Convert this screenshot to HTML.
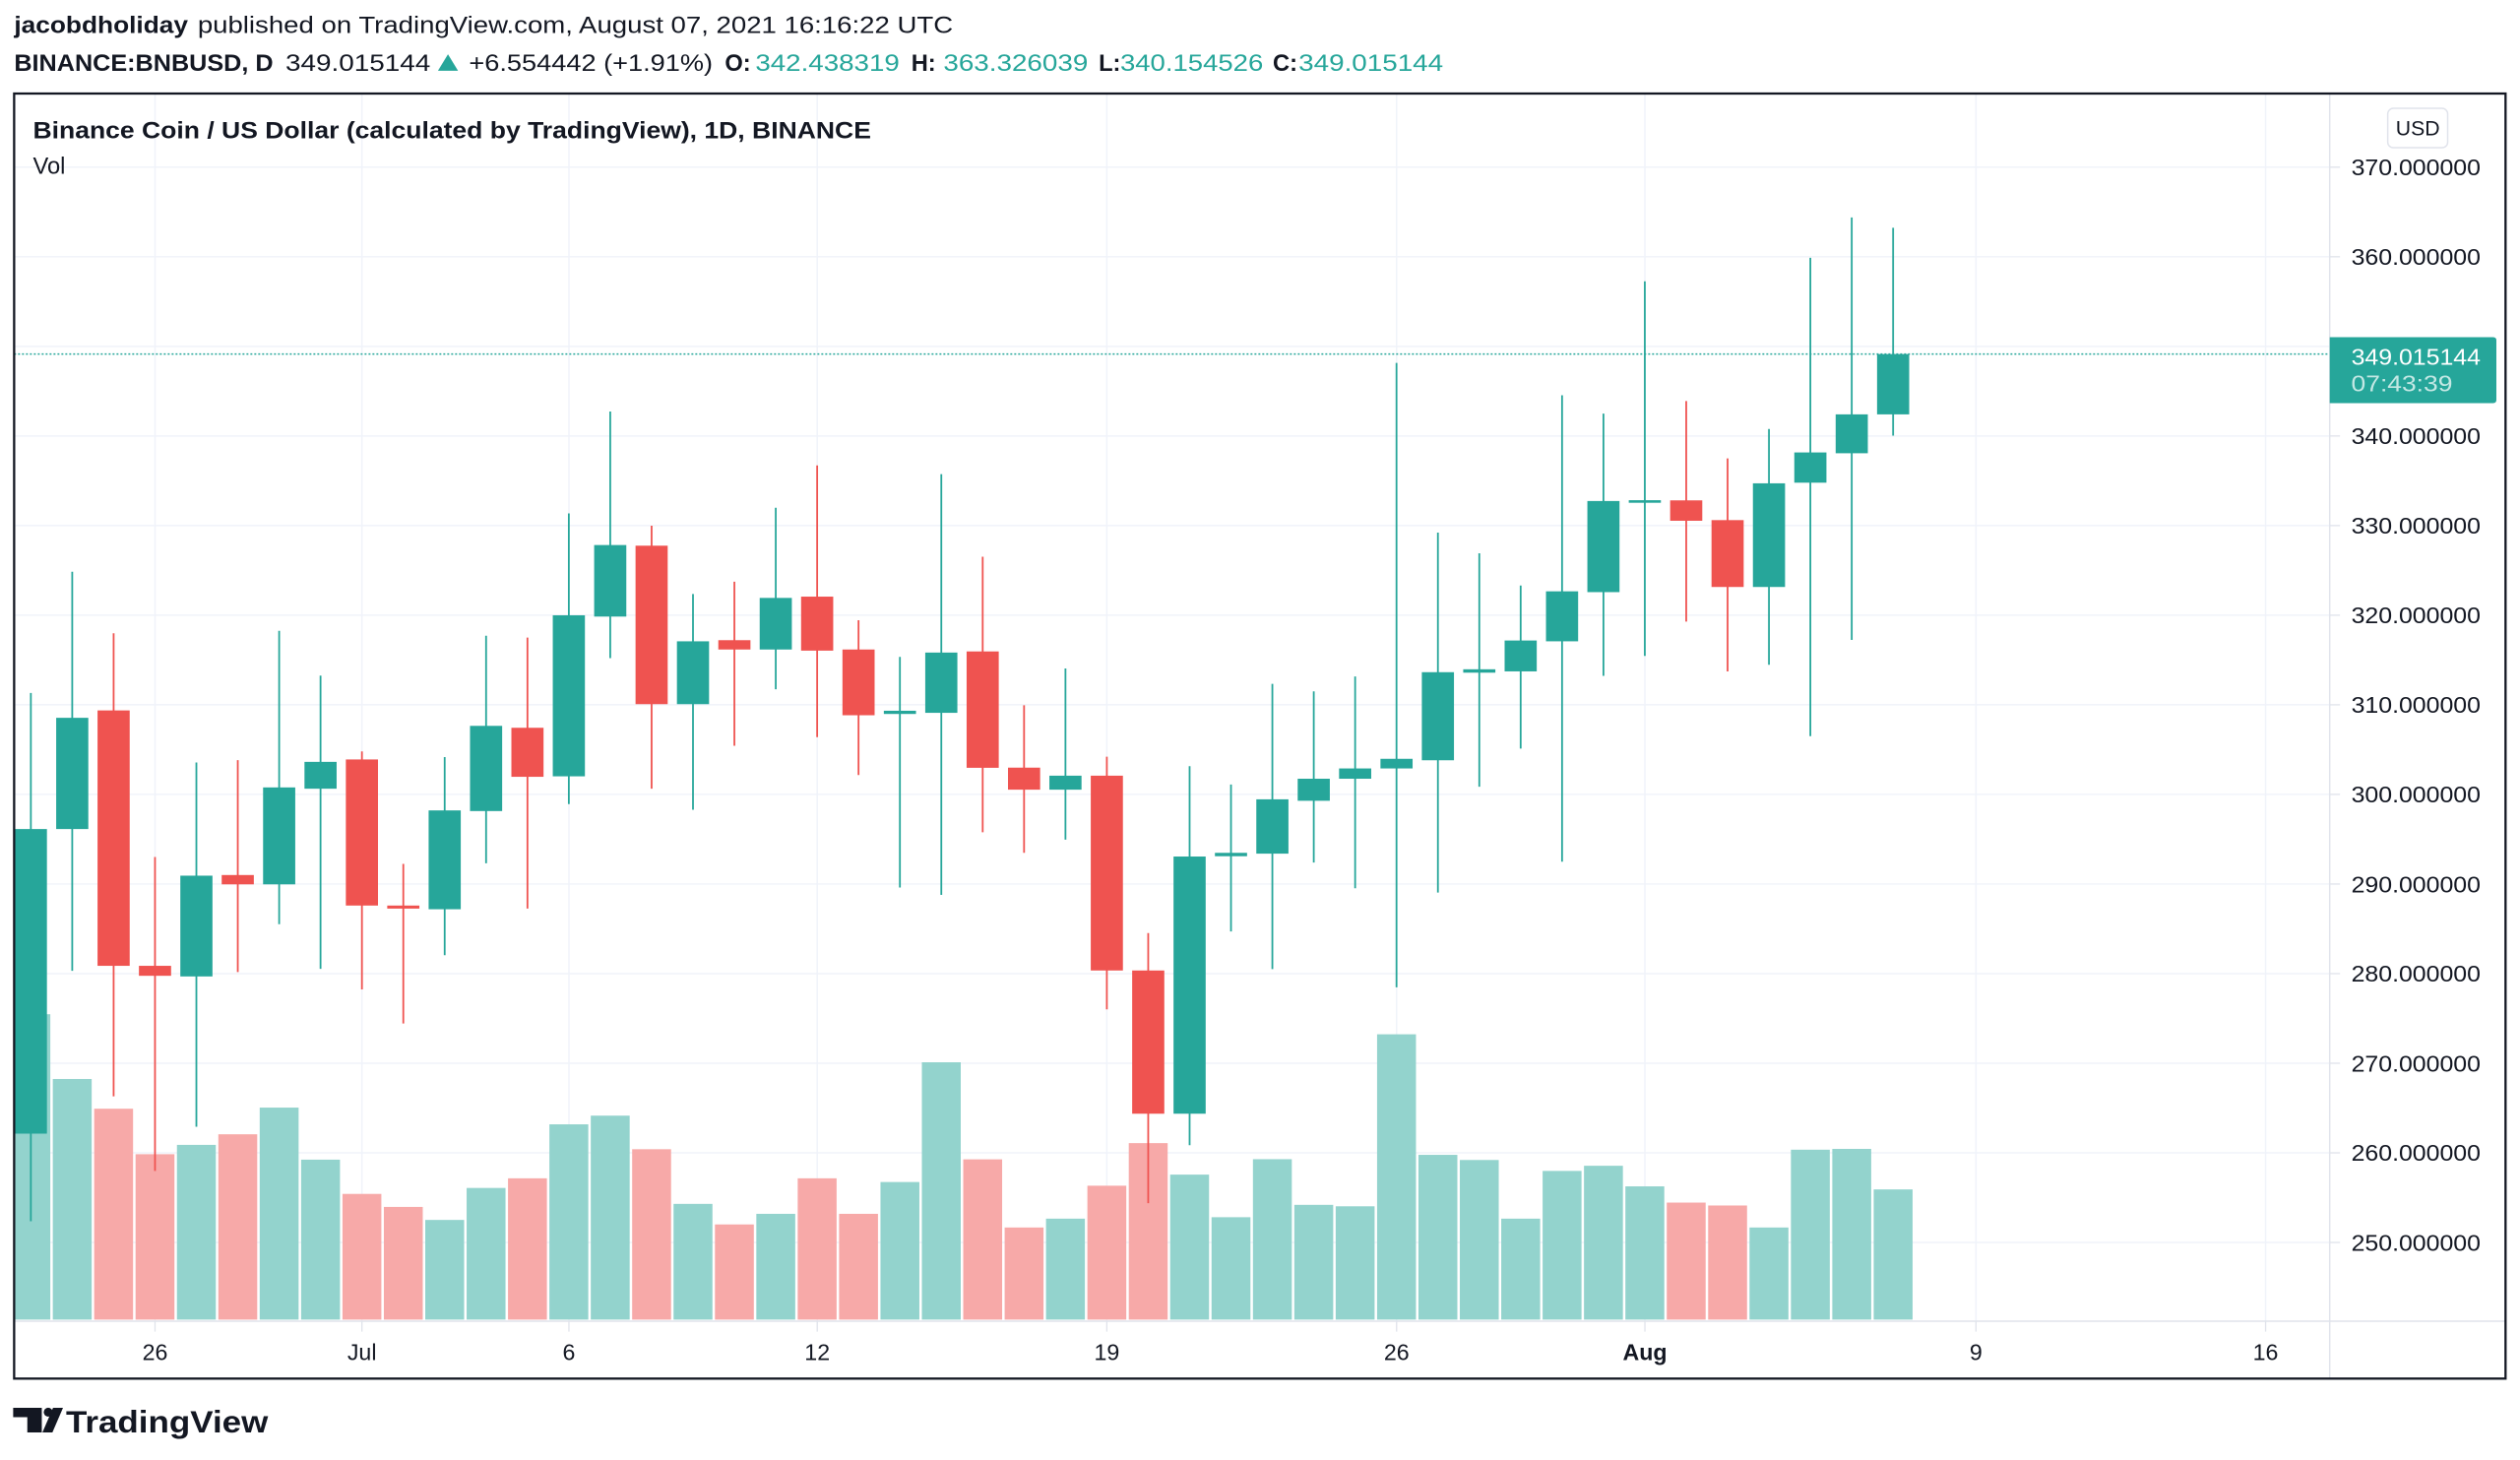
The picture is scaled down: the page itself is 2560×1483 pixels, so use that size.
<!DOCTYPE html>
<html><head><meta charset="utf-8"><style>
html,body{margin:0;padding:0;background:#fff;}
svg{display:block;}
text{font-family:"Liberation Sans",Arial,sans-serif;fill:#131722;}
.g{fill:#26a69a}.r{fill:#ef5350}
.vg{fill:#93d3cd}.vr{fill:#f7a9a8}
.wg{stroke:#26a69a;stroke-width:1.1}.wr{stroke:#ef5350;stroke-width:1.1}
.grid{stroke:#f0f3fa;stroke-width:0.9}
.tk{stroke:#e0e3eb;stroke-width:0.8}
.pl{font-size:14px}
.tl{font-size:14.2px}
.tv{fill:#26a69a}
</style></head><body>
<svg width="2560" height="1483" viewBox="0 0 1568 908.35" preserveAspectRatio="none" xmlns="http://www.w3.org/2000/svg">
<defs><clipPath id="cp"><rect x="8.8" y="58.2" width="1440.8" height="763.8"/></clipPath></defs>
<rect x="0" y="0" width="1568" height="908.35" fill="#fff"/>

<!-- header -->
<text x="8.8" y="20.5" font-size="14.5" font-weight="bold" textLength="108.2" lengthAdjust="spacingAndGlyphs">jacobdholiday</text>
<text x="123" y="20.5" font-size="14.5" textLength="470" lengthAdjust="spacingAndGlyphs">published on TradingView.com, August 07, 2021 16:16:22 UTC</text>
<text x="8.8" y="44" font-size="14.5" font-weight="bold" textLength="161.2" lengthAdjust="spacingAndGlyphs">BINANCE:BNBUSD, D</text>
<text x="177.6" y="44" font-size="14.5" textLength="90.2" lengthAdjust="spacingAndGlyphs">349.015144</text>
<polygon points="272.5,44 285,44 278.75,33.8" fill="#26a69a"/>
<text x="291.8" y="44" font-size="14.5" textLength="151.7" lengthAdjust="spacingAndGlyphs">+6.554442 (+1.91%)</text>
<text x="451" y="44" font-size="14.5" font-weight="bold">O:</text>
<text x="470" y="44" font-size="14.5" class="tv" textLength="89.7" lengthAdjust="spacingAndGlyphs">342.438319</text>
<text x="567" y="44" font-size="14.5" font-weight="bold">H:</text>
<text x="587" y="44" font-size="14.5" class="tv" textLength="90" lengthAdjust="spacingAndGlyphs">363.326039</text>
<text x="683.6" y="44" font-size="14.5" font-weight="bold">L:</text>
<text x="697" y="44" font-size="14.5" class="tv" textLength="89" lengthAdjust="spacingAndGlyphs">340.154526</text>
<text x="792" y="44" font-size="14.5" font-weight="bold">C:</text>
<text x="808" y="44" font-size="14.5" class="tv" textLength="90" lengthAdjust="spacingAndGlyphs">349.015144</text>

<!-- grid -->
<g class="grid">
<line x1="8.8" x2="1449.6" y1="104" y2="104"/>
<line x1="8.8" x2="1449.6" y1="159.75" y2="159.75"/>
<line x1="8.8" x2="1449.6" y1="215.5" y2="215.5"/>
<line x1="8.8" x2="1449.6" y1="271.25" y2="271.25"/>
<line x1="8.8" x2="1449.6" y1="327" y2="327"/>
<line x1="8.8" x2="1449.6" y1="382.75" y2="382.75"/>
<line x1="8.8" x2="1449.6" y1="438.5" y2="438.5"/>
<line x1="8.8" x2="1449.6" y1="494.25" y2="494.25"/>
<line x1="8.8" x2="1449.6" y1="550" y2="550"/>
<line x1="8.8" x2="1449.6" y1="605.75" y2="605.75"/>
<line x1="8.8" x2="1449.6" y1="661.5" y2="661.5"/>
<line x1="8.8" x2="1449.6" y1="717.25" y2="717.25"/>
<line x1="8.8" x2="1449.6" y1="773" y2="773"/>
<line x1="96.45" x2="96.45" y1="58.2" y2="822"/>
<line x1="225.2" x2="225.2" y1="58.2" y2="822"/>
<line x1="354" x2="354" y1="58.2" y2="822"/>
<line x1="508.5" x2="508.5" y1="58.2" y2="822"/>
<line x1="688.7" x2="688.7" y1="58.2" y2="822"/>
<line x1="869" x2="869" y1="58.2" y2="822"/>
<line x1="1023.5" x2="1023.5" y1="58.2" y2="822"/>
<line x1="1229.5" x2="1229.5" y1="58.2" y2="822"/>
<line x1="1409.7" x2="1409.7" y1="58.2" y2="822"/>
</g>

<!-- title -->
<text x="20.5" y="86" font-size="14.5" font-weight="bold" textLength="521.5" lengthAdjust="spacingAndGlyphs">Binance Coin / US Dollar (calculated by TradingView), 1D, BINANCE</text>
<text x="20.5" y="108.2" font-size="14.5">Vol</text>

<g clip-path="url(#cp)">
<!-- volume -->
<rect class="vg" x="7.1" y="631" width="24.2" height="190"/>
<rect class="vg" x="32.85" y="671.3" width="24.2" height="149.7"/>
<rect class="vr" x="58.6" y="689.8" width="24.2" height="131.2"/>
<rect class="vr" x="84.35" y="718.1" width="24.2" height="102.9"/>
<rect class="vg" x="110.1" y="712.3" width="24.2" height="108.7"/>
<rect class="vr" x="135.85" y="705.7" width="24.2" height="115.3"/>
<rect class="vg" x="161.6" y="689.1" width="24.2" height="131.9"/>
<rect class="vg" x="187.35" y="721.5" width="24.2" height="99.5"/>
<rect class="vr" x="213.1" y="742.8" width="24.2" height="78.2"/>
<rect class="vr" x="238.85" y="750.9" width="24.2" height="70.1"/>
<rect class="vg" x="264.6" y="759" width="24.2" height="62"/>
<rect class="vg" x="290.35" y="739.1" width="24.2" height="81.9"/>
<rect class="vr" x="316.1" y="733.1" width="24.2" height="87.9"/>
<rect class="vg" x="341.85" y="699.5" width="24.2" height="121.5"/>
<rect class="vg" x="367.6" y="694.1" width="24.2" height="126.9"/>
<rect class="vr" x="393.35" y="715" width="24.2" height="106"/>
<rect class="vg" x="419.1" y="749" width="24.2" height="72"/>
<rect class="vr" x="444.85" y="761.8" width="24.2" height="59.2"/>
<rect class="vg" x="470.6" y="755.2" width="24.2" height="65.8"/>
<rect class="vr" x="496.35" y="733.1" width="24.2" height="87.9"/>
<rect class="vr" x="522.1" y="755.2" width="24.2" height="65.8"/>
<rect class="vg" x="547.85" y="735.4" width="24.2" height="85.6"/>
<rect class="vg" x="573.6" y="660.9" width="24.2" height="160.1"/>
<rect class="vr" x="599.35" y="721.3" width="24.2" height="99.7"/>
<rect class="vr" x="625.1" y="763.7" width="24.2" height="57.3"/>
<rect class="vg" x="650.85" y="758.2" width="24.2" height="62.8"/>
<rect class="vr" x="676.6" y="737.7" width="24.2" height="83.3"/>
<rect class="vr" x="702.35" y="711.2" width="24.2" height="109.8"/>
<rect class="vg" x="728.1" y="730.8" width="24.2" height="90.2"/>
<rect class="vg" x="753.85" y="757.3" width="24.2" height="63.7"/>
<rect class="vg" x="779.6" y="721.2" width="24.2" height="99.8"/>
<rect class="vg" x="805.35" y="749.6" width="24.2" height="71.4"/>
<rect class="vg" x="831.1" y="750.5" width="24.2" height="70.5"/>
<rect class="vg" x="856.85" y="643.5" width="24.2" height="177.5"/>
<rect class="vg" x="882.6" y="718.5" width="24.2" height="102.5"/>
<rect class="vg" x="908.35" y="721.7" width="24.2" height="99.3"/>
<rect class="vg" x="934.1" y="758.2" width="24.2" height="62.8"/>
<rect class="vg" x="959.85" y="728.5" width="24.2" height="92.5"/>
<rect class="vg" x="985.6" y="725.3" width="24.2" height="95.7"/>
<rect class="vg" x="1011.35" y="738.1" width="24.2" height="82.9"/>
<rect class="vr" x="1037.1" y="748.2" width="24.2" height="72.8"/>
<rect class="vr" x="1062.85" y="750" width="24.2" height="71"/>
<rect class="vg" x="1088.6" y="763.7" width="24.2" height="57.3"/>
<rect class="vg" x="1114.35" y="715.3" width="24.2" height="105.7"/>
<rect class="vg" x="1140.1" y="714.8" width="24.2" height="106.2"/>
<rect class="vg" x="1165.85" y="740" width="24.2" height="81"/>

<!-- dotted last price line -->
<line x1="8.8" x2="1449.6" y1="220.3" y2="220.3" stroke="#26a69a" stroke-width="0.9" stroke-dasharray="1.2 1.25"/>

<!-- wicks -->
<line class="wg" x1="19.2" x2="19.2" y1="431.1" y2="759.8"/>
<line class="wg" x1="44.95" x2="44.95" y1="355.7" y2="604"/>
<line class="wr" x1="70.7" x2="70.7" y1="394" y2="682.1"/>
<line class="wr" x1="96.45" x2="96.45" y1="533.2" y2="728.5"/>
<line class="wg" x1="122.2" x2="122.2" y1="474.4" y2="701"/>
<line class="wr" x1="147.95" x2="147.95" y1="472.9" y2="604.8"/>
<line class="wg" x1="173.7" x2="173.7" y1="392.5" y2="575"/>
<line class="wg" x1="199.45" x2="199.45" y1="420.3" y2="602.8"/>
<line class="wr" x1="225.2" x2="225.2" y1="467.5" y2="615.6"/>
<line class="wr" x1="250.95" x2="250.95" y1="537.5" y2="636.8"/>
<line class="wg" x1="276.7" x2="276.7" y1="471" y2="594.3"/>
<line class="wg" x1="302.45" x2="302.45" y1="395.5" y2="537.1"/>
<line class="wr" x1="328.2" x2="328.2" y1="396.7" y2="565.3"/>
<line class="wg" x1="353.95" x2="353.95" y1="319.4" y2="500.3"/>
<line class="wg" x1="379.7" x2="379.7" y1="256" y2="409.5"/>
<line class="wr" x1="405.45" x2="405.45" y1="327.1" y2="490.7"/>
<line class="wg" x1="431.2" x2="431.2" y1="369.6" y2="503.8"/>
<line class="wr" x1="456.95" x2="456.95" y1="361.9" y2="464"/>
<line class="wg" x1="482.7" x2="482.7" y1="315.9" y2="428.8"/>
<line class="wr" x1="508.45" x2="508.45" y1="289.6" y2="458.6"/>
<line class="wr" x1="534.2" x2="534.2" y1="385.9" y2="482.2"/>
<line class="wg" x1="559.95" x2="559.95" y1="408.7" y2="552.2"/>
<line class="wg" x1="585.7" x2="585.7" y1="295" y2="556.8"/>
<line class="wr" x1="611.45" x2="611.45" y1="346.4" y2="517.8"/>
<line class="wr" x1="637.2" x2="637.2" y1="438.8" y2="530.6"/>
<line class="wg" x1="662.95" x2="662.95" y1="415.9" y2="522.4"/>
<line class="wr" x1="688.7" x2="688.7" y1="470.8" y2="628"/>
<line class="wr" x1="714.45" x2="714.45" y1="580.5" y2="748.6"/>
<line class="wg" x1="740.2" x2="740.2" y1="476.7" y2="712.5"/>
<line class="wg" x1="765.95" x2="765.95" y1="488.1" y2="579.5"/>
<line class="wg" x1="791.7" x2="791.7" y1="425.5" y2="602.9"/>
<line class="wg" x1="817.45" x2="817.45" y1="430.1" y2="536.6"/>
<line class="wg" x1="843.2" x2="843.2" y1="420.9" y2="552.6"/>
<line class="wg" x1="868.95" x2="868.95" y1="225.8" y2="614.3"/>
<line class="wg" x1="894.7" x2="894.7" y1="331.4" y2="555.3"/>
<line class="wg" x1="920.45" x2="920.45" y1="344.2" y2="489.5"/>
<line class="wg" x1="946.2" x2="946.2" y1="364.3" y2="465.7"/>
<line class="wg" x1="971.95" x2="971.95" y1="245.9" y2="536.1"/>
<line class="wg" x1="997.7" x2="997.7" y1="257.3" y2="420.5"/>
<line class="wg" x1="1023.45" x2="1023.45" y1="175" y2="408.1"/>
<line class="wr" x1="1049.2" x2="1049.2" y1="249.5" y2="386.7"/>
<line class="wr" x1="1074.95" x2="1074.95" y1="285.2" y2="417.7"/>
<line class="wg" x1="1100.7" x2="1100.7" y1="266.9" y2="413.6"/>
<line class="wg" x1="1126.45" x2="1126.45" y1="160.4" y2="458"/>
<line class="wg" x1="1152.2" x2="1152.2" y1="135.3" y2="398.1"/>
<line class="wg" x1="1177.95" x2="1177.95" y1="141.7" y2="271"/>

<!-- bodies -->
<rect class="g" x="9.2" y="515.8" width="20" height="189.5"/>
<rect class="g" x="34.95" y="446.6" width="20" height="69.2"/>
<rect class="r" x="60.7" y="442" width="20" height="158.9"/>
<rect class="r" x="86.45" y="600.9" width="20" height="6.2"/>
<rect class="g" x="112.2" y="544.8" width="20" height="62.7"/>
<rect class="r" x="137.95" y="544.4" width="20" height="5.8"/>
<rect class="g" x="163.7" y="489.9" width="20" height="60.3"/>
<rect class="g" x="189.45" y="474" width="20" height="16.7"/>
<rect class="r" x="215.2" y="472.5" width="20" height="90.9"/>
<rect class="r" x="240.95" y="563.4" width="20" height="1.9"/>
<rect class="g" x="266.7" y="504.2" width="20" height="61.5"/>
<rect class="g" x="292.45" y="451.6" width="20" height="53"/>
<rect class="r" x="318.2" y="452.8" width="20" height="30.5"/>
<rect class="g" x="343.95" y="382.8" width="20" height="100.2"/>
<rect class="g" x="369.7" y="339.1" width="20" height="44.5"/>
<rect class="r" x="395.45" y="339.5" width="20" height="98.6"/>
<rect class="g" x="421.2" y="399" width="20" height="39.1"/>
<rect class="r" x="446.95" y="398.3" width="20" height="5.8"/>
<rect class="g" x="472.7" y="372" width="20" height="32.1"/>
<rect class="r" x="498.45" y="371.2" width="20" height="33.6"/>
<rect class="r" x="524.2" y="404.1" width="20" height="40.9"/>
<rect class="g" x="549.95" y="442.2" width="20" height="2"/>
<rect class="g" x="575.7" y="406" width="20" height="37.5"/>
<rect class="r" x="601.45" y="405.3" width="20" height="72.4"/>
<rect class="r" x="627.2" y="477.6" width="20" height="13.7"/>
<rect class="g" x="652.95" y="482.6" width="20" height="8.7"/>
<rect class="r" x="678.7" y="482.6" width="20" height="121.2"/>
<rect class="r" x="704.45" y="603.8" width="20" height="89.1"/>
<rect class="g" x="730.2" y="532.9" width="20" height="160"/>
<rect class="g" x="755.95" y="530.6" width="20" height="2.1"/>
<rect class="g" x="781.7" y="497.3" width="20" height="33.8"/>
<rect class="g" x="807.45" y="484.5" width="20" height="13.7"/>
<rect class="g" x="833.2" y="478.1" width="20" height="6.4"/>
<rect class="g" x="858.95" y="472.1" width="20" height="6"/>
<rect class="g" x="884.7" y="418.2" width="20" height="54.8"/>
<rect class="g" x="910.45" y="416.4" width="20" height="2.1"/>
<rect class="g" x="936.2" y="398.5" width="20" height="19.2"/>
<rect class="g" x="961.95" y="367.9" width="20" height="31.1"/>
<rect class="g" x="987.7" y="311.7" width="20" height="56.7"/>
<rect class="g" x="1013.45" y="311.2" width="20" height="1.6"/>
<rect class="r" x="1039.2" y="311.3" width="20" height="12.7"/>
<rect class="r" x="1064.95" y="323.6" width="20" height="41.6"/>
<rect class="g" x="1090.7" y="300.7" width="20" height="64.5"/>
<rect class="g" x="1116.45" y="281.5" width="20" height="18.8"/>
<rect class="g" x="1142.2" y="257.8" width="20" height="24.2"/>
<rect class="g" x="1167.95" y="220.3" width="20" height="37.5"/>
</g>

<!-- axes separators -->
<line x1="1449.6" x2="1449.6" y1="58.2" y2="857.7" stroke="#e0e3eb" stroke-width="0.9"/>
<line x1="8.8" x2="1559" y1="822" y2="822" stroke="#e0e3eb" stroke-width="0.9"/>

<!-- price axis ticks -->
<g class="tk">
<line x1="1449.6" x2="1456" y1="104" y2="104"/>
<line x1="1449.6" x2="1456" y1="159.75" y2="159.75"/>
<line x1="1449.6" x2="1456" y1="271.25" y2="271.25"/>
<line x1="1449.6" x2="1456" y1="327" y2="327"/>
<line x1="1449.6" x2="1456" y1="382.75" y2="382.75"/>
<line x1="1449.6" x2="1456" y1="438.5" y2="438.5"/>
<line x1="1449.6" x2="1456" y1="494.25" y2="494.25"/>
<line x1="1449.6" x2="1456" y1="550" y2="550"/>
<line x1="1449.6" x2="1456" y1="605.75" y2="605.75"/>
<line x1="1449.6" x2="1456" y1="661.5" y2="661.5"/>
<line x1="1449.6" x2="1456" y1="717.25" y2="717.25"/>
<line x1="1449.6" x2="1456" y1="773" y2="773"/>
<line x1="96.45" x2="96.45" y1="822" y2="828.5"/>
<line x1="225.2" x2="225.2" y1="822" y2="828.5"/>
<line x1="354" x2="354" y1="822" y2="828.5"/>
<line x1="508.5" x2="508.5" y1="822" y2="828.5"/>
<line x1="688.7" x2="688.7" y1="822" y2="828.5"/>
<line x1="869" x2="869" y1="822" y2="828.5"/>
<line x1="1023.5" x2="1023.5" y1="822" y2="828.5"/>
<line x1="1229.5" x2="1229.5" y1="822" y2="828.5"/>
<line x1="1409.7" x2="1409.7" y1="822" y2="828.5"/>
</g>

<!-- price labels -->
<g class="pl">
<text x="1463" y="109.1" textLength="80.5" lengthAdjust="spacingAndGlyphs">370.000000</text>
<text x="1463" y="164.8" textLength="80.5" lengthAdjust="spacingAndGlyphs">360.000000</text>
<text x="1463" y="276.3" textLength="80.5" lengthAdjust="spacingAndGlyphs">340.000000</text>
<text x="1463" y="332.1" textLength="80.5" lengthAdjust="spacingAndGlyphs">330.000000</text>
<text x="1463" y="387.8" textLength="80.5" lengthAdjust="spacingAndGlyphs">320.000000</text>
<text x="1463" y="443.6" textLength="80.5" lengthAdjust="spacingAndGlyphs">310.000000</text>
<text x="1463" y="499.3" textLength="80.5" lengthAdjust="spacingAndGlyphs">300.000000</text>
<text x="1463" y="555.1" textLength="80.5" lengthAdjust="spacingAndGlyphs">290.000000</text>
<text x="1463" y="610.8" textLength="80.5" lengthAdjust="spacingAndGlyphs">280.000000</text>
<text x="1463" y="666.6" textLength="80.5" lengthAdjust="spacingAndGlyphs">270.000000</text>
<text x="1463" y="722.3" textLength="80.5" lengthAdjust="spacingAndGlyphs">260.000000</text>
<text x="1463" y="778.1" textLength="80.5" lengthAdjust="spacingAndGlyphs">250.000000</text>
</g>

<!-- last price tag -->
<path d="M1449.6,209.8 H1551.3 Q1553.3,209.8 1553.3,211.8 V248.8 Q1553.3,250.8 1551.3,250.8 H1449.6 Z" fill="#26a69a"/>
<text x="1463" y="226.8" font-size="14" style="fill:#ffffff" textLength="80.5" lengthAdjust="spacingAndGlyphs">349.015144</text>
<text x="1463" y="243.6" font-size="14" style="fill:#c4e8e4" textLength="63" lengthAdjust="spacingAndGlyphs">07:43:39</text>

<!-- USD button -->
<rect x="1485.7" y="67.4" width="37.3" height="24.5" rx="3.5" fill="#fff" stroke="#e0e3eb" stroke-width="0.9"/>
<text x="1504.4" y="84.3" font-size="13" text-anchor="middle">USD</text>

<!-- time labels -->
<g class="tl" text-anchor="middle">
<text x="96.45" y="846.3">26</text>
<text x="225.2" y="846.3">Jul</text>
<text x="354" y="846.3">6</text>
<text x="508.5" y="846.3">12</text>
<text x="688.7" y="846.3">19</text>
<text x="869" y="846.3">26</text>
<text x="1023.5" y="846.3" font-weight="bold">Aug</text>
<text x="1229.5" y="846.3">9</text>
<text x="1409.7" y="846.3">16</text>
</g>

<!-- border -->
<rect x="8.8" y="58.2" width="1550.2" height="799.5" fill="none" stroke="#131722" stroke-width="1.4"/>

<!-- TradingView logo -->
<g fill="#131722">
<path d="M8.2,875.9 H26 V891.2 H17 V881.7 H8.2 Z"/>
<circle cx="30" cy="878.6" r="2.8"/>
<path d="M33,875.9 H39.2 L32.6,891.2 H26.4 Z"/>
</g>
<text x="41" y="891.2" font-size="19.5" font-weight="bold" textLength="125.8" lengthAdjust="spacingAndGlyphs">TradingView</text>
</svg>
</body></html>
